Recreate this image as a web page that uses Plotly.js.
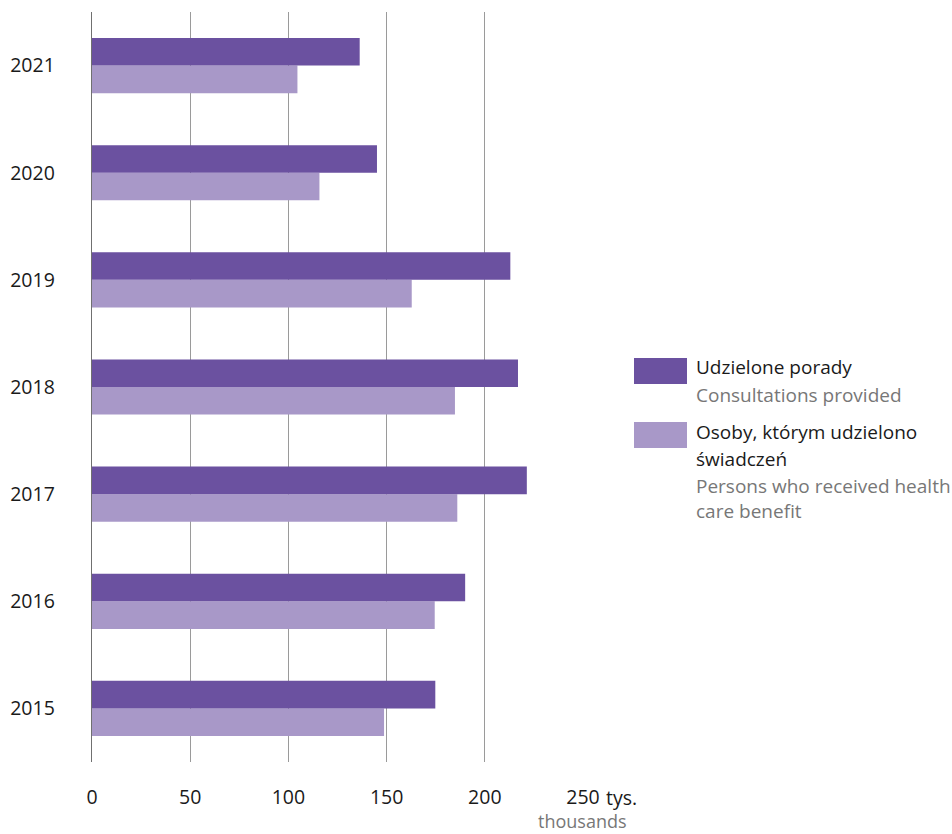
<!DOCTYPE html>
<html>
<head>
<meta charset="utf-8">
<script src="https://cdn.plot.ly/plotly-3.0.1.min.js"></script>
<style>html,body{margin:0;padding:0;background:#fff;}#chart{width:952px;height:834px;}</style>
</head>
<body>
<div id="chart"></div>
<script>
var years = ['2015','2016','2017','2018','2019','2020','2021'];
var consultations = [174.8, 190.0, 221.4, 216.9, 213.0, 145.1, 136.3];
var persons = [148.7, 174.5, 186.0, 184.8, 162.8, 115.8, 104.6];
var tickVals = [0, 50, 100, 150, 200, 250];
var tickText = ['0', '50', '100', '150', '200', '250'];
var seriesPL = ['Udzielone porady', 'Osoby, którym udzielono'];
var seriesPL2 = 'świadczeń';
var seriesEN = ['Consultations provided', 'Persons who received health', 'care benefit'];
var unitPL = 'tys.';
var unitEN = 'thousands';

var dark = '#6b51a0';
var light = '#a898c8';
var FONT = 'Open Sans, sans-serif';

var traces = [
  {type:'bar', orientation:'h', y:years, x:persons, name:seriesPL[1],
   marker:{color:light, line:{width:0}}, hoverinfo:'x+y'},
  {type:'bar', orientation:'h', y:years, x:consultations, name:seriesPL[0],
   marker:{color:dark, line:{width:0}}, hoverinfo:'x+y'}
];

function px2x(px){ return (px-92)/491; }
function py2y(py){ return (762-py)/750; }

var LS = 19;
var ann = [
  {xref:'paper', yref:'paper', x:px2x(605), y:py2y(797), xanchor:'left', yanchor:'middle',
   borderpad:0, text:unitPL, showarrow:false, font:{family:FONT, size:19.5, color:'#1a1a1a'}},
  {xref:'paper', yref:'paper', x:px2x(628), y:py2y(821), xanchor:'right', yanchor:'middle',
   borderpad:0, text:unitEN, showarrow:false, font:{family:FONT, size:18, color:'#777'}},
  {xref:'paper', yref:'paper', x:px2x(694), y:py2y(367), xanchor:'left', yanchor:'middle',
   text:seriesPL[0], showarrow:false, font:{family:FONT, size:LS, color:'#1a1a1a'}},
  {xref:'paper', yref:'paper', x:px2x(694), y:py2y(395), xanchor:'left', yanchor:'middle',
   text:seriesEN[0], showarrow:false, font:{family:FONT, size:LS, color:'#777'}},
  {xref:'paper', yref:'paper', x:px2x(694), y:py2y(432), xanchor:'left', yanchor:'middle',
   text:seriesPL[1], showarrow:false, font:{family:FONT, size:LS, color:'#1a1a1a'}},
  {xref:'paper', yref:'paper', x:px2x(694), y:py2y(459), xanchor:'left', yanchor:'middle',
   text:seriesPL2, showarrow:false, font:{family:FONT, size:LS, color:'#1a1a1a'}},
  {xref:'paper', yref:'paper', x:px2x(694), y:py2y(486), xanchor:'left', yanchor:'middle',
   text:seriesEN[1], showarrow:false, font:{family:FONT, size:LS, color:'#777'}},
  {xref:'paper', yref:'paper', x:px2x(694), y:py2y(511), xanchor:'left', yanchor:'middle',
   text:seriesEN[2], showarrow:false, font:{family:FONT, size:LS, color:'#777'}}
];

var shapes = [
  {type:'rect', xref:'paper', yref:'paper', x0:px2x(634), x1:px2x(687), y0:py2y(384), y1:py2y(358),
   fillcolor:dark, line:{width:0}},
  {type:'rect', xref:'paper', yref:'paper', x0:px2x(634), x1:px2x(687), y0:py2y(448), y1:py2y(422),
   fillcolor:light, line:{width:0}}
];

var layout = {
  width:952, height:834,
  margin:{l:92, r:369, t:12, b:72, pad:0},
  paper_bgcolor:'#fff', plot_bgcolor:'#fff',
  barmode:'group', bargap:0.485, bargroupgap:0,
  showlegend:false,
  font:{family:FONT, size:19, color:'#1a1a1a'},
  xaxis:{range:[0,250], tickvals:tickVals, ticktext:tickText, showgrid:true,
         gridcolor:'#9a9a9a', gridwidth:1, zeroline:false, showline:false,
         ticks:'', ticklabelstandoff:21, tickfont:{family:FONT, size:19.5, color:'#1a1a1a'},
         fixedrange:true},
  yaxis:{type:'category', range:[-0.5,6.5], showgrid:false, zeroline:false,
         showline:true, linecolor:'#707070', linewidth:1.3, ticks:'',
         ticklabelstandoff:32, tickfont:{family:FONT, size:19.5, color:'#1a1a1a'}, fixedrange:true},
  annotations:ann,
  shapes:shapes
};

Plotly.newPlot('chart', traces, layout, {displayModeBar:false, staticPlot:true});
</script>
</body>
</html>
